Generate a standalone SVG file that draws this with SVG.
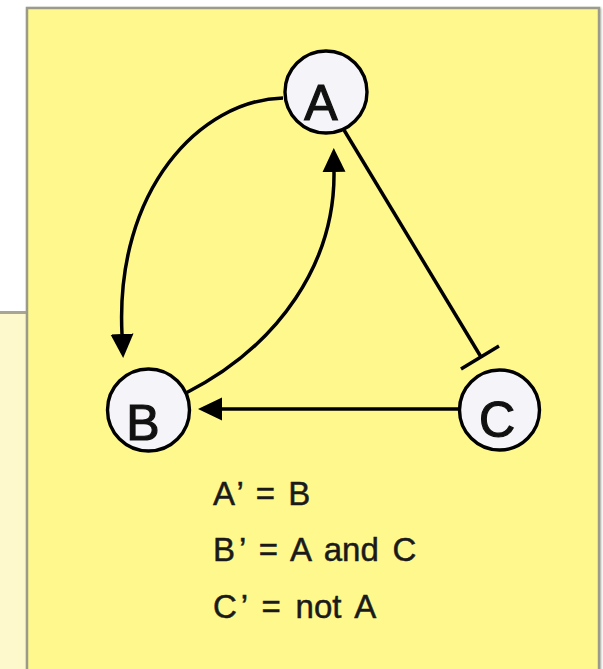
<svg xmlns="http://www.w3.org/2000/svg" width="603" height="669" viewBox="0 0 603 669">
<defs>
<marker id="arr" markerUnits="userSpaceOnUse" markerWidth="26" markerHeight="26" refX="0" refY="11.5" orient="auto" viewBox="0 0 26 23">
<path d="M0,0 L24,11.5 L0,23 z" fill="#000"/>
</marker>
<filter id="sh" x="-5%" y="-5%" width="110%" height="110%">
<feDropShadow dx="1" dy="1" stdDeviation="1" flood-color="#888" flood-opacity="0.6"/>
</filter>
</defs>
<style>
.node circle{fill:#f5f5f9;stroke:#000;stroke-width:3.4}
.node text{font-family:"Liberation Sans",Arial,sans-serif;font-size:50px;fill:#111;stroke:#111;stroke-width:1.2;text-anchor:middle}
.edge{fill:none;stroke:#000;stroke-width:3.5}
.eq{font-family:"Liberation Sans",Arial,sans-serif;font-size:33px;fill:#1a1a1a;stroke:#1a1a1a;stroke-width:0.5}
</style>
<rect x="0" y="0" width="603" height="669" fill="#ffffff"/>
<rect x="0" y="313" width="30" height="356" fill="#fdf9cc"/>
<line x1="0" y1="312.5" x2="28" y2="312.5" stroke="#a8a594" stroke-width="3"/>
<rect x="27" y="8" width="572" height="690" fill="#fff98d" stroke="#9c9a88" stroke-width="2.5" filter="url(#sh)"/>
<g id="connectors">
<path class="edge" d="M283,98 C200,100 115,190 122,334" marker-end="url(#arr)"/>
<path class="edge" d="M186,393 C280,345 335,262 334,172" marker-end="url(#arr)"/>
<line class="edge" x1="459" y1="409" x2="222" y2="409" marker-end="url(#arr)"/>
<line class="edge" x1="344" y1="130" x2="481" y2="357"/>
<line class="edge" x1="461" y1="369" x2="499" y2="346"/>
</g>
<g id="A" class="node"><circle cx="326" cy="92" r="41"/><text x="321" y="120">A</text></g>
<g id="B" class="node"><circle cx="148.5" cy="410" r="41"/><text x="143" y="440">B</text></g>
<g id="C" class="node"><circle cx="499.5" cy="410" r="40"/><text x="497" y="437">C</text></g>
<g id="equations">
<text class="eq" x="213" y="505" word-spacing="4">A<tspan dx="4">’</tspan> = B</text>
<text class="eq" x="213" y="561" word-spacing="4.5">B<tspan dx="4">’</tspan> = A and C</text>
<text class="eq" x="213" y="618" word-spacing="5.5">C<tspan dx="4">’</tspan> = not A</text>
</g>
</svg>
